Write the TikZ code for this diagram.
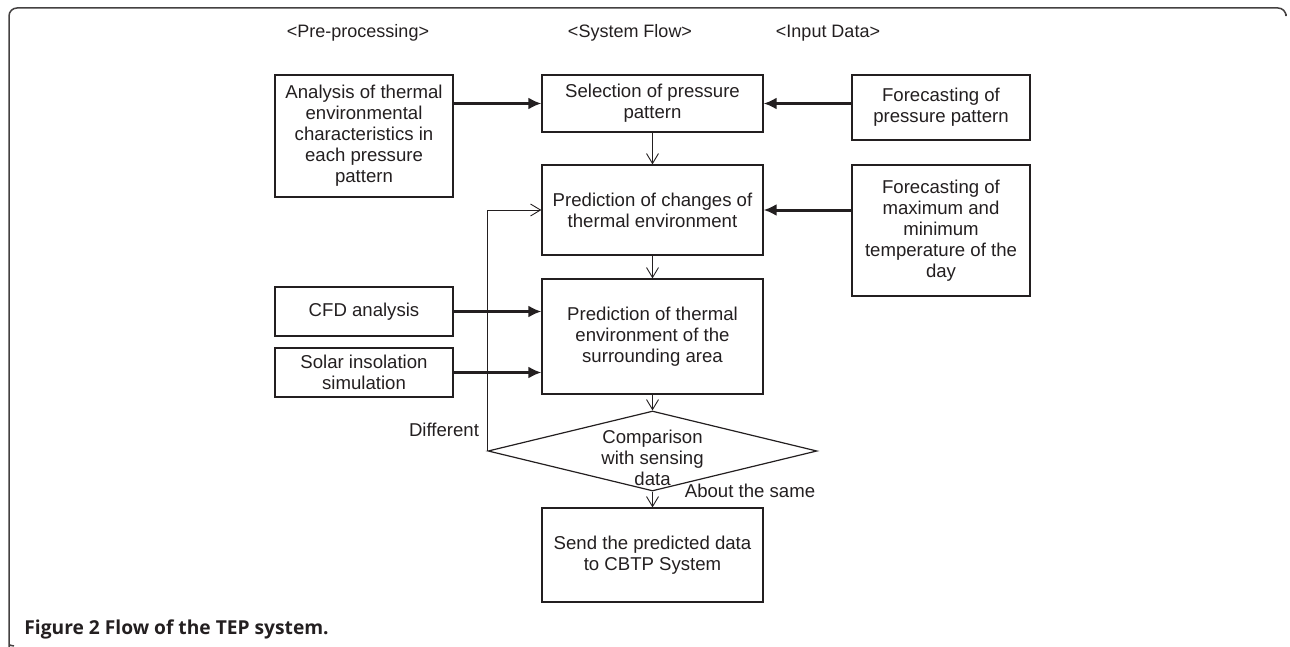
\documentclass[tikz,border=0pt]{standalone}
\usepackage{fontspec}
\setmainfont{Liberation Sans}
\newfontfamily\capfont{Open Sans}
\usetikzlibrary{arrows.meta,shapes.geometric,calc}
\definecolor{Ink}{HTML}{231F20}
\tikzset{
 flow/.style={draw=Ink,line width=0.6pt,align=center,text=Ink,
   font=\fontsize{9.3}{10.5}\selectfont,inner sep=0pt,minimum width=110.5pt},
 side/.style={flow,minimum width=89pt},
 check/.style={diamond,draw=Ink,line width=0.6pt,inner sep=0pt,
   minimum width=164.5pt,minimum height=40pt},
 head/.style={text=Ink,font=\fontsize{9}{10.5}\selectfont,inner sep=0pt},
 feed/.style={-{Latex[length=6.5pt,width=6pt]},line width=1.5pt,draw=Ink},
 link/.style={-{Straight Barb[length=5pt,width=6pt]},line width=0.45pt,draw=Ink},
 frame/.style={draw=Ink!85,line width=0.75pt}
}
\begin{document}
\begin{tikzpicture}[x=0.5pt,y=-0.5pt]
\useasboundingbox (0,0) rectangle (1290,647);
\draw[frame] (1286,14) [rounded corners=4pt] |- (9,8) -- (9,640) [sharp corners] to[out=-90,in=180] (14,646);
\node[head] (hpre) at (358,33) {<Pre-processing>};
\node[head] (hsys) at (630,33) {<System Flow>};
\node[head] (hinp) at (828,33) {<Input Data>};
\node[side,minimum height=61pt] (anal) at (364,136) {Analysis of thermal\\environmental\\characteristics in\\each pressure\\pattern};
\node[flow,minimum height=28.5pt] (sel) at (652.5,103.5) {Selection of pressure\\pattern};
\node[side,minimum height=32.5pt] (fcp) at (941,107.5) {Forecasting of\\pressure pattern};
\node[flow,minimum height=45pt] (chg) at (652.5,210) {Prediction of changes of\\thermal environment};
\node[side,minimum height=65.5pt] (fct) at (941,230.5) {Forecasting of\\maximum and\\minimum\\temperature of the\\day};
\node[side,minimum height=24.5pt] (cfd) at (364,311.5) {CFD analysis};
\node[side,minimum height=24.5pt] (sol) at (364,372.5) {Solar insolation\\simulation};
\node[flow,minimum height=57.5pt] (env) at (652.5,336.5) {Prediction of thermal\\environment of the\\surrounding area};
\node[check,label={[head,font=\fontsize{9.3}{10.5}\selectfont,align=center,yshift=-3.5pt]center:Comparison\\with sensing\\data}] (cmp) at (652.5,451) {};
\node[flow,minimum height=47pt] (send) at (652.5,555) {Send the predicted data\\to CBTP System};
\node[head,font=\fontsize{9.3}{10.5}\selectfont] (diff) at (444,430) {Different};
\node[head,font=\fontsize{9.3}{10.5}\selectfont] (same) at (750,491) {About the same};
\node[anchor=west,text=Ink,font=\capfont\bfseries\fontsize{9.6}{11}\selectfont,inner sep=0pt] (cap) at (24,629) {Figure 2 Flow of the TEP system.};
\draw[feed] (anal.east |- sel.west) -- (sel.west);
\draw[feed] (fcp.west |- sel.east) -- (sel.east);
\draw[feed] (fct.west |- chg.east) -- (chg.east);
\draw[feed] (cfd.east) -- (cfd.east -| env.west);
\draw[feed] (sol.east) -- (sol.east -| env.west);
\draw[link] (sel) -- (chg);
\draw[link] (chg) -- (env);
\draw[link] (env) -- (cmp);
\draw[link] (cmp) -- (send);
\draw[link] (cmp.west) -- (cmp.west |- chg.west) -- (chg.west);
\end{tikzpicture}
\end{document}
